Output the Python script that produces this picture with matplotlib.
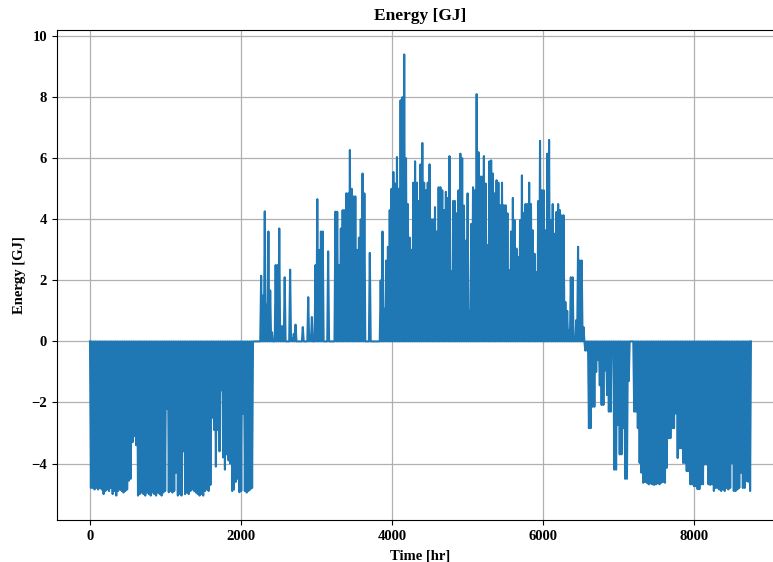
import numpy as np
import matplotlib.pyplot as plt

# daily extreme value of the hourly energy [GJ]
# heating season at start of year (days 0-89), negative
winter1 = [-4.8, -4.8, -4.85, -4.8, -4.85, -4.8, -4.85, -5.0, -4.9, -4.85,
           -4.9, -4.8, -5.0, -4.9, -5.05, -4.9, -4.85, -4.9, -4.95, -4.9,
           -4.85, -4.56, -4.5, -3.3, -3.1, -3.4, -5.05, -5.0, -4.95, -5.0,
           -5.05, -4.95, -5.0, -5.05, -4.95, -5.0, -5.05, -4.95, -5.0, -5.05,
           -4.95, -4.9, -2.2, -4.94, -4.9, -4.95, -4.9, -4.3, -5.05, -5.0,
           -5.05, -3.6, -5.0, -4.95, -5.0, -4.9, -4.85, -4.9, -4.95, -5.0,
           -5.05, -5.0, -5.05, -4.9, -4.85, -4.9, -4.7, -2.5, -2.9, -4.1,
           -2.9, -3.6, -1.6, -3.8, -4.2, -3.7, -3.9, -4.0, -4.9, -4.85,
           -4.6, -4.5, -4.94, -4.9, -2.37, -4.9, -4.95, -4.9, -4.85, -4.8]

# idle days (90-93)
idle = [0.0, 0.0, 0.0, 0.0]

# cooling / surplus season (days 94-272), positive
summer = [2.15, 1.5, 4.26, 1.2, 3.6, 1.67, 0.3, 0.0, 2.5, 2.5,
          3.7, 0.5, 0.5, 2.1, 0.0, 0.0, 2.35, 0.1, 0.25, 0.55,
          0.0, 0.0, 0.0, 0.47, 0.0, 0.0, 1.45, 0.2, 0.8, 0.0,
          2.5, 4.66, 3.0, 3.6, 3.6, 0.0, 0.0, 2.95, 0.0, 0.0,
          0.0, 4.25, 4.25, 2.5, 3.7, 4.3, 4.3, 4.85, 4.85, 6.27,
          5.0, 4.75, 4.75, 3.0, 3.4, 4.0, 5.5, 4.85, 0.0, 0.0,
          2.9, 0.0, 0.0, 0.0, 0.0, 0.0, 2.0, 3.6, 1.07, 2.65,
          3.1, 4.3, 5.0, 5.55, 5.17, 6.04, 5.0, 7.9, 8.0, 9.4,
          6.0, 4.5, 3.4, 3.0, 5.2, 5.9, 5.2, 4.6, 5.8, 6.5,
          5.2, 4.95, 5.2, 5.8, 4.0, 4.0, 4.4, 3.6, 5.05, 5.05,
          4.95, 4.3, 4.9, 4.7, 6.07, 2.3, 4.6, 4.6, 4.2, 4.95,
          6.15, 6.0, 4.45, 3.3, 4.85, 1.0, 3.85, 5.05, 4.95, 8.1,
          6.2, 5.4, 5.4, 6.07, 5.17, 3.15, 5.9, 5.93, 5.5, 4.85,
          5.28, 5.2, 4.46, 5.2, 4.46, 4.46, 4.2, 2.33, 3.6, 4.7,
          3.97, 3.04, 2.76, 3.97, 5.44, 4.2, 4.5, 4.5, 5.2, 4.5,
          3.64, 2.87, 2.27, 4.6, 6.57, 4.95, 4.95, 3.64, 6.15, 6.6,
          3.97, 4.5, 3.53, 4.24, 4.5, 4.3, 4.13, 4.13, 1.29, 1.0,
          0.36, 2.1, 2.1, 0.03, 0.7, 3.1, 2.65, 2.65, 0.47]

# heating season at end of year (days 273-364), negative
winter2 = [-0.3, -0.3, -2.84, -2.84, -2.14, -2.14, -1.0, -0.6, -1.44, -2.08,
           -2.08, -0.95, -1.76, -2.3, -2.3, -0.1, -4.2, -4.2, -2.73, -3.7,
           -3.7, -2.84, -4.5, -4.5, -1.3, 0.0, 0.0, -2.3, -2.3, -2.84,
           -3.98, -4.3, -4.63, -4.6, -4.63, -4.68, -4.65, -4.68, -4.7, -4.68,
           -4.65, -4.68, -4.63, -4.6, -4.63, -4.14, -3.17, -3.17, -2.84, -2.84,
           -2.36, -3.82, -3.5, -3.5, -3.98, -3.98, -4.25, -4.25, -4.68, -4.68,
           -4.74, -4.74, -4.84, -4.84, -4.68, -4.68, -4.03, -4.03, -4.68, -4.7,
           -4.68, -4.9, -4.8, -4.8, -4.85, -4.9, -4.85, -4.9, -4.8, -4.85,
           -4.8, -3.98, -4.9, -4.9, -4.85, -4.8, -4.3, -4.8, -4.8, -4.57,
           -4.6, -4.9]

daily = np.array(winter1 + idle + summer + winter2)

# hourly series: each day swings between zero and its extreme value
hours = []
energy = []
for d, v in enumerate(daily):
    hours += [24 * d, 24 * d + 12]
    energy += [0.0, v]
hours.append(8759)
energy.append(0.0)

plt.rcParams['font.family'] = 'Liberation Serif'
plt.rcParams['font.weight'] = 'bold'

fig = plt.figure(figsize=(7.73, 5.62), dpi=100)
ax = fig.add_axes([0.0737, 0.0747, 0.9405, 0.8719])

ax.plot(hours, energy, color='#1f77b4', linewidth=1.5)
ax.set_ylim(-5.85, 10.2)
ax.grid(True, color='#b0b0b0', linewidth=0.9)
ax.set_axisbelow(True)

ax.set_title('Energy [GJ]', fontsize=12.5, fontweight='bold', pad=7)
ax.set_xlabel('Time [hr]', fontsize=10.5, fontweight='bold', labelpad=5)
ax.set_ylabel('Energy [GJ]', fontsize=10.5, fontweight='bold')
ax.tick_params(labelsize=10.5)
for lab in ax.get_xticklabels() + ax.get_yticklabels():
    lab.set_fontweight('bold')

fig.savefig('out.png', dpi=100)
